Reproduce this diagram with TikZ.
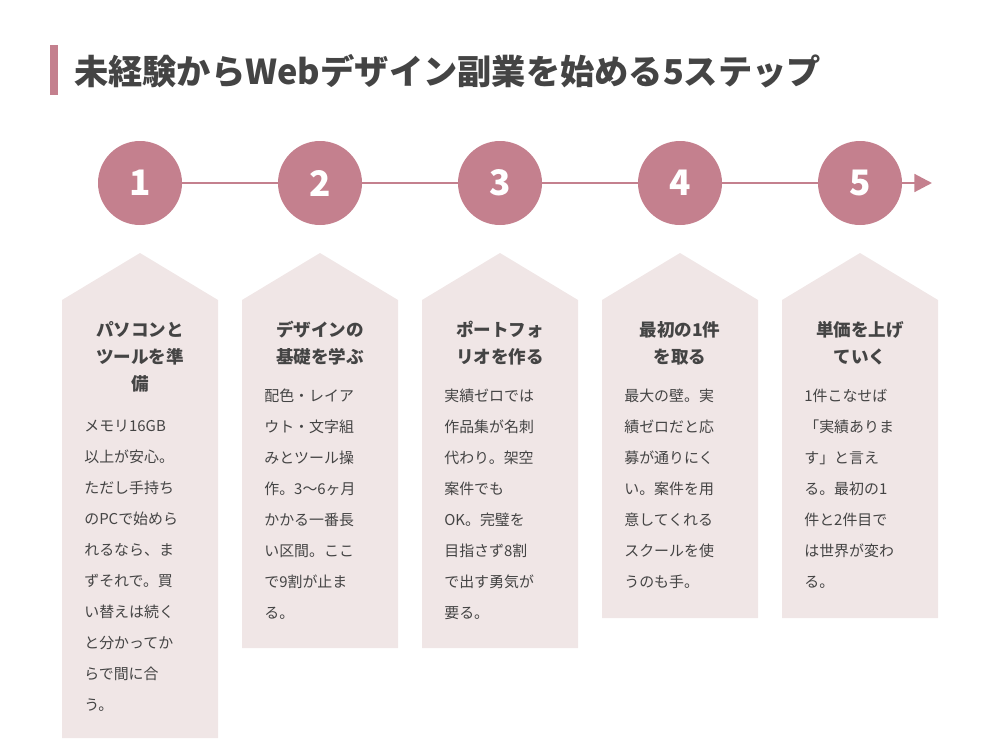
\documentclass[tikz,border=0pt]{standalone}
\usepackage{fontspec}
\setmainfont{Noto Sans CJK JP}
\usetikzlibrary{arrows.meta}
\definecolor{rose}{HTML}{C4808E}
\definecolor{card}{HTML}{F0E6E6}
\definecolor{ink}{HTML}{444444}
\tikzset{
  stepdot/.style={circle, fill=rose, minimum size=84*0.02cm, inner sep=0pt, text=white, font=\fontsize{20}{20}\selectfont\bfseries},
  head/.style={anchor=north, align=center, text=ink, font=\fontsize{10}{15.3}\selectfont\bfseries},
  body/.style={anchor=north west, align=left, text=ink, font=\fontsize{8.5}{17.6}\selectfont, inner sep=0pt}
}
\begin{document}
\begin{tikzpicture}[x=0.02cm, y=-0.02cm, >=Latex]
  \useasboundingbox (0,0) rectangle (1000,750);

  \fill[rose] (50,45) rectangle (58,95);
  \node[anchor=west, text=ink, font=\fontsize{19.5}{20}\selectfont\bfseries] (title) at (68,71) {未経験からWebデザイン副業を始める5ステップ};

  \coordinate (end) at (932,183);
  \draw[rose, line width=1.7pt, -{Triangle[length=10pt,width=10pt]}] (140,183) -- (end);

  \foreach \i/\b in {1/738, 2/648, 3/648, 4/618, 5/618} {
    \pgfmathsetmacro{\cx}{140+180*(\i-1)}
    \node[stepdot] (s\i) at (\cx,183) {\i};
    \fill[card] (\cx-78,300) -- (\cx,253) -- (\cx+78,300) -- (\cx+78,\b) -- (\cx-78,\b) -- cycle;
  }

  \node[head] (h1) at (140,315) {パソコンと\\ツールを準\\備};
  \node[head] (h2) at (320,315) {デザインの\\基礎を学ぶ};
  \node[head] (h3) at (500,315) {ポートフォ\\リオを作る};
  \node[head] (h4) at (680,315) {最初の1件\\を取る};
  \node[head] (h5) at (860,315) {単価を上げ\\ていく};

  \node[body] (b1) at (84,420) {メモリ16GB\\以上が安心。\\ただし手持ち\\のPCで始めら\\れるなら、ま\\ずそれで。買\\い替えは続く\\と分かってか\\らで間に合\\う。};
  \node[body] (b2) at (264,389) {配色・レイア\\ウト・文字組\\みとツール操\\作。3〜6ヶ月\\かかる一番長\\い区間。ここ\\で9割が止ま\\る。};
  \node[body] (b3) at (444,389) {実績ゼロでは\\作品集が名刺\\代わり。架空\\案件でも\\OK。完璧を\\目指さず8割\\で出す勇気が\\要る。};
  \node[body] (b4) at (624,389) {最大の壁。実\\績ゼロだと応\\募が通りにく\\い。案件を用\\意してくれる\\スクールを使\\うのも手。};
  \node[body] (b5) at (804,389) {1件こなせば\\「実績ありま\\す」と言え\\る。最初の1\\件と2件目で\\は世界が変わ\\る。};
\end{tikzpicture}
\end{document}
